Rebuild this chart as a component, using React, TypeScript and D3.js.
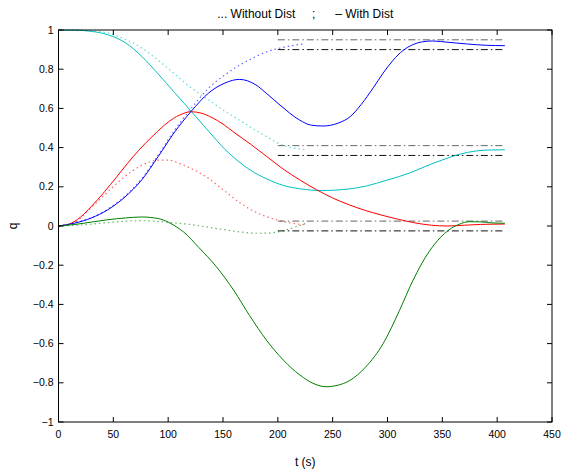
import React from "react";
import * as d3 from "d3";

// ---- data (t in seconds, q values) ----
const cyanWithT = [0, 15, 30, 45, 61, 76, 91, 106, 121, 137, 152, 164, 175, 190, 205, 220, 240, 260, 280, 300, 320, 335, 350, 365, 381, 395, 407];
const cyanWithV = [1, 0.999, 0.993, 0.976, 0.935, 0.865, 0.775, 0.68, 0.585, 0.483, 0.39, 0.33, 0.285, 0.24, 0.207, 0.19, 0.181, 0.186, 0.203, 0.235, 0.27, 0.305, 0.337, 0.365, 0.383, 0.388, 0.389];

const cyanWithoutT = [0, 15, 30, 45, 61, 76, 91, 106, 121, 137, 152, 165, 175, 190, 202, 215, 225];
const cyanWithoutV = [1, 1, 0.996, 0.985, 0.952, 0.908, 0.845, 0.775, 0.705, 0.643, 0.585, 0.54, 0.505, 0.455, 0.418, 0.397, 0.39];

const blueWithT = [0, 15, 30, 45, 60, 76, 91, 106, 121, 137, 152, 165, 180, 190, 202, 220, 230, 241, 255, 266, 276, 287, 296, 305, 314, 323, 332, 341, 356, 372, 390, 407];
const blueWithV = [0, 0.015, 0.041, 0.083, 0.145, 0.236, 0.355, 0.48, 0.585, 0.679, 0.73, 0.748, 0.72, 0.675, 0.617, 0.54, 0.515, 0.51, 0.525, 0.558, 0.62, 0.705, 0.78, 0.845, 0.895, 0.925, 0.94, 0.944, 0.937, 0.929, 0.922, 0.92];

const blueWithoutT = [0, 15, 30, 45, 60, 76, 91, 106, 121, 137, 152, 165, 173, 190, 208, 225];
const blueWithoutV = [0, 0.016, 0.043, 0.086, 0.15, 0.242, 0.363, 0.49, 0.6, 0.704, 0.772, 0.82, 0.845, 0.889, 0.915, 0.93];

const redWithT = [0, 10, 20, 30, 42, 53, 63, 73, 87, 100, 110, 121, 130, 140, 150, 160, 175, 190, 205, 220, 235, 250, 265, 280, 295, 310, 325, 340, 355, 370, 385, 407];
const redWithV = [0, 0.01, 0.045, 0.1, 0.175, 0.25, 0.32, 0.385, 0.465, 0.53, 0.565, 0.583, 0.576, 0.553, 0.52, 0.478, 0.418, 0.354, 0.29, 0.235, 0.186, 0.143, 0.108, 0.079, 0.055, 0.034, 0.016, 0.004, 0.0, 0.004, 0.008, 0.01];

const redWithoutT = [0, 15, 30, 45, 60, 76, 91, 100, 110, 121, 135, 150, 165, 180, 195, 210, 226];
const redWithoutV = [0, 0.02, 0.095, 0.175, 0.25, 0.31, 0.336, 0.336, 0.32, 0.293, 0.25, 0.185, 0.12, 0.07, 0.038, 0.017, 0.005];

const greenWithT = [0, 15, 30, 45, 61, 76, 91, 100, 109, 114, 128, 144, 160, 174, 190, 205, 220, 233, 244, 255, 265, 280, 296, 311, 323, 338, 348, 356, 365, 375, 385, 395, 407];
const greenWithV = [0, 0.008, 0.02, 0.032, 0.041, 0.046, 0.038, 0.02, -0.01, -0.03, -0.11, -0.208, -0.33, -0.455, -0.585, -0.684, -0.76, -0.805, -0.82, -0.812, -0.79, -0.72, -0.6, -0.43, -0.28, -0.13, -0.06, -0.02, 0.008, 0.022, 0.021, 0.016, 0.014];

const greenWithoutT = [0, 20, 40, 60, 75, 91, 105, 120, 135, 150, 165, 180, 192, 205, 217, 226];
const greenWithoutV = [0, 0.005, 0.015, 0.024, 0.027, 0.024, 0.016, 0.008, -0.005, -0.018, -0.03, -0.037, -0.036, -0.024, -0.003, 0.014];

const bandLevels = [0.95, 0.9, 0.41, 0.36, 0.025, -0.025];
const bandStart = 200;
const bandEnd = 407;

const xTicks = [0, 50, 100, 150, 200, 250, 300, 350, 400, 450];
const yTicks = [-1, -0.8, -0.6, -0.4, -0.2, 0, 0.2, 0.4, 0.6, 0.8, 1];

const titleText = "... Without Dist     ;      \u2013 With Dist";
const xLabel = "t (s)";
const yLabel = "q";

const colors = { blue: "#0000ff", red: "#ff0000", cyan: "#00bfbf", green: "#008000" };

export default function App() {
  const W = 564;
  const H = 474;
  const left = 58.5;
  const right = 552;
  const top = 30;
  const bottom = 422;

  const x = d3.scaleLinear().domain([0, 450]).range([left, right]);
  const y = d3.scaleLinear().domain([-1, 1]).range([bottom, top]);

  const line = d3
    .line<[number, number]>()
    .x((d) => x(d[0]))
    .y((d) => y(d[1]))
    .curve(d3.curveMonotoneX);

  const zip = (t: number[], v: number[]) => t.map((tt, i) => [tt, v[i]] as [number, number]);

  const withSeries = [
    { c: colors.cyan, d: zip(cyanWithT, cyanWithV) },
    { c: colors.red, d: zip(redWithT, redWithV) },
    { c: colors.blue, d: zip(blueWithT, blueWithV) },
    { c: colors.green, d: zip(greenWithT, greenWithV) },
  ];
  const withoutSeries = [
    { c: colors.cyan, d: zip(cyanWithoutT, cyanWithoutV) },
    { c: colors.red, d: zip(redWithoutT, redWithoutV) },
    { c: colors.blue, d: zip(blueWithoutT, blueWithoutV) },
    { c: colors.green, d: zip(greenWithoutT, greenWithoutV) },
  ];

  const fmt = (v: number) => {
    const s = d3.format("~g")(Math.round(v * 10) / 10);
    return s.replace("-", "\u2212");
  };

  const font = "'Liberation Sans', Arial, Helvetica, sans-serif";
  const tickLen = 5;

  return (
    <svg width={W} height={H} style={{ position: "absolute", left: 0, top: 0 }} fontFamily={font}>
      <rect x={0} y={0} width={W} height={H} fill="#fff" />
      {bandLevels.map((lv, i) => (
        <line
          key={"b" + i}
          x1={x(bandStart)}
          x2={x(bandEnd)}
          y1={y(lv)}
          y2={y(lv)}
          stroke={i % 2 === 0 ? "#666" : "#111"}
          strokeWidth={1}
          strokeDasharray="7,3,1.5,3"
        />
      ))}
      {withoutSeries.map((s, i) => (
        <path
          key={"wo" + i}
          d={line(s.d) || ""}
          fill="none"
          stroke={s.c}
          strokeOpacity={0.6}
          strokeWidth={1.2}
          strokeDasharray="1.5,3"
        />
      ))}
      {withSeries.map((s, i) => (
        <path key={"w" + i} d={line(s.d) || ""} fill="none" stroke={s.c} strokeWidth={1} />
      ))}
      <rect x={left} y={top} width={right - left} height={bottom - top} fill="none" stroke="#000" strokeWidth={1} />
      {xTicks.map((t) => (
        <g key={"xt" + t}>
          <line x1={x(t)} x2={x(t)} y1={bottom} y2={bottom - tickLen} stroke="#000" />
          <line x1={x(t)} x2={x(t)} y1={top} y2={top + tickLen} stroke="#000" />
          <text x={x(t)} y={bottom + 16} fontSize={10.5} textAnchor="middle" fill="#000">
            {t}
          </text>
        </g>
      ))}
      {yTicks.map((t) => (
        <g key={"yt" + t}>
          <line x1={left} x2={left + tickLen} y1={y(t)} y2={y(t)} stroke="#000" />
          <line x1={right} x2={right - tickLen} y1={y(t)} y2={y(t)} stroke="#000" />
          <text x={left - 5} y={y(t) + 3.5} fontSize={10.5} textAnchor="end" fill="#000">
            {fmt(t)}
          </text>
        </g>
      ))}
      <text x={(left + right) / 2} y={18} fontSize={12} textAnchor="middle" fill="#000" style={{ whiteSpace: "pre" }}>
        {titleText}
      </text>
      <text x={(left + right) / 2} y={466} fontSize={12} textAnchor="middle" fill="#000">
        {xLabel}
      </text>
      <text
        x={0}
        y={0}
        transform={`translate(17,${(top + bottom) / 2}) rotate(-90)`}
        fontSize={12}
        textAnchor="middle"
        fill="#000"
      >
        {yLabel}
      </text>
    </svg>
  );
}
